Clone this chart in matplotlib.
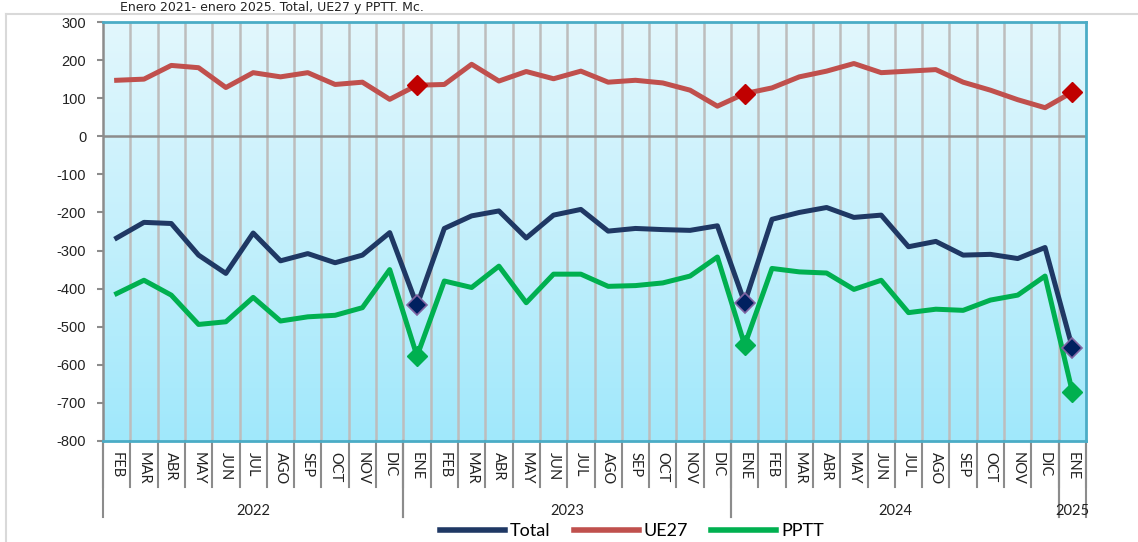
import numpy as np
import matplotlib
matplotlib.use('Agg')
import matplotlib.pyplot as plt
from matplotlib.colors import LinearSegmentedColormap
from matplotlib.lines import Line2D

plt.rcParams['axes.unicode_minus'] = False

months = ['FEB', 'MAR', 'ABR', 'MAY', 'JUN', 'JUL', 'AGO', 'SEP', 'OCT', 'NOV', 'DIC',
          'ENE', 'FEB', 'MAR', 'ABR', 'MAY', 'JUN', 'JUL', 'AGO', 'SEP', 'OCT', 'NOV', 'DIC',
          'ENE', 'FEB', 'MAR', 'ABR', 'MAY', 'JUN', 'JUL', 'AGO', 'SEP', 'OCT', 'NOV', 'DIC',
          'ENE']
years = ['2022', '2023', '2024', '2025']
year_start = [0, 11, 23, 35]
year_end = [10, 22, 34, 35]

total = [-267, -226, -229, -312, -360, -254, -327, -308, -332, -312, -253,
         -444, -242, -209, -196, -267, -207, -192, -249, -242, -245, -247, -235,
         -437, -218, -200, -187, -213, -207, -290, -276, -312, -310, -321, -292,
         -555]
ue27 = [147, 150, 186, 180, 128, 167, 156, 167, 136, 142, 97,
        134, 136, 189, 145, 170, 151, 171, 142, 147, 140, 121, 79,
        112, 127, 156, 171, 191, 167, 171, 175, 142, 121, 96, 75,
        116]
pptt = [-413, -378, -417, -494, -487, -423, -485, -474, -470, -450, -350,
        -577, -380, -397, -341, -437, -362, -362, -394, -392, -385, -367, -317,
        -548, -347, -356, -359, -402, -378, -463, -454, -457, -430, -417, -367,
        -671]

ene_idx = [i for i, m in enumerate(months) if m == 'ENE']
x = np.arange(len(months))

fig = plt.figure(figsize=(11.38, 5.42), dpi=100)
ax = fig.add_axes([103 / 1138, 1 - 441 / 542, 983 / 1138, 419 / 542])

# gradient background
cmap = LinearSegmentedColormap.from_list('bg', ['#E2F7FD', '#C4F0FC', '#A0E8FB'])
ax.imshow(np.linspace(0, 1, 256).reshape(-1, 1), cmap=cmap, aspect='auto',
          extent=[-0.5, len(months) - 0.5, -800, 300], zorder=0)

ax.set_xlim(-0.5, len(months) - 0.5)
ax.set_ylim(-800, 300)

for b in np.arange(len(months) - 1) + 0.5:
    ax.axvline(b, color='#BDBDBD', lw=1.8, zorder=1)
ax.axhline(0, color='#8C8C8C', lw=1.8, zorder=1)

ax.plot(x, ue27, color='#C0504D', lw=3.6, zorder=3,
        marker='D', markevery=ene_idx, markersize=10,
        markerfacecolor='#C00000', markeredgecolor='#C00000')
ax.plot(x, total, color='#1F3864', lw=3.6, zorder=4,
        marker='D', markevery=ene_idx, markersize=10,
        markerfacecolor='#002060', markeredgecolor='#8064A2', markeredgewidth=1.2)
ax.plot(x, pptt, color='#00B050', lw=3.6, zorder=3,
        marker='D', markevery=ene_idx, markersize=10,
        markerfacecolor='#00B050', markeredgecolor='#00B050')

for s in ['top', 'right', 'bottom']:
    ax.spines[s].set_color('#4BACC6')
    ax.spines[s].set_linewidth(2)
ax.spines['left'].set_color('#8C8C8C')
ax.spines['left'].set_linewidth(1.8)

ax.set_yticks(range(-800, 301, 100))
ax.tick_params(axis='y', length=4, width=1.5, color='#8C8C8C', pad=8,
               labelsize=10.5, labelcolor='#222222')
for t in ax.get_yticklabels():
    t.set_family('Liberation Sans')

ax.set_xticks(x)
ax.set_xticklabels(months, rotation=-90, fontsize=10.5, family='Lato', color='#222222')
ax.tick_params(axis='x', length=0, pad=8)

trans = ax.get_xaxis_transform()
for b in np.arange(len(months) + 1) - 0.5:
    ax.plot([b, b], [0, -46 / 419], transform=trans, color='#8C8C8C', lw=1.5,
            clip_on=False, zorder=1)
for s, e in zip(year_start, year_end):
    for b in (s - 0.5, e + 0.5):
        ax.plot([b, b], [0, -76 / 419], transform=trans, color='#8C8C8C', lw=1.5,
                clip_on=False, zorder=1)
for yr, s, e in zip(years, year_start, year_end):
    ax.text((s + e) / 2, -70 / 419, yr, transform=trans, ha='center', va='center',
            fontsize=10.5, family='Lato', color='#222222')

handles = [Line2D([], [], color='#1F3864', lw=4),
           Line2D([], [], color='#C0504D', lw=4),
           Line2D([], [], color='#00B050', lw=4)]
fig.legend(handles, ['Total', 'UE27', 'PPTT'], loc='center',
           bbox_to_anchor=(632 / 1138, 1 - 531 / 542), ncol=3, frameon=False,
           handlelength=3.6, handletextpad=0.25, columnspacing=1.3,
           prop={'family': 'Lato', 'size': 13})

# title (cut off in the source image) and outer frame
fig.text(120 / 1138, 1 - 1 / 542, 'Enero 2021- enero 2025. Total, UE27 y PPTT. Mc.',
         fontsize=9, va='top', ha='left', color='#222222')
fig.add_artist(Line2D([6 / 1138, 1], [1 - 14 / 542, 1 - 14 / 542], color='#D9D9D9', lw=1.5))
fig.add_artist(Line2D([6 / 1138, 6 / 1138], [0, 1 - 14 / 542], color='#D9D9D9', lw=1.5))

fig.savefig('out.png', dpi=100)
